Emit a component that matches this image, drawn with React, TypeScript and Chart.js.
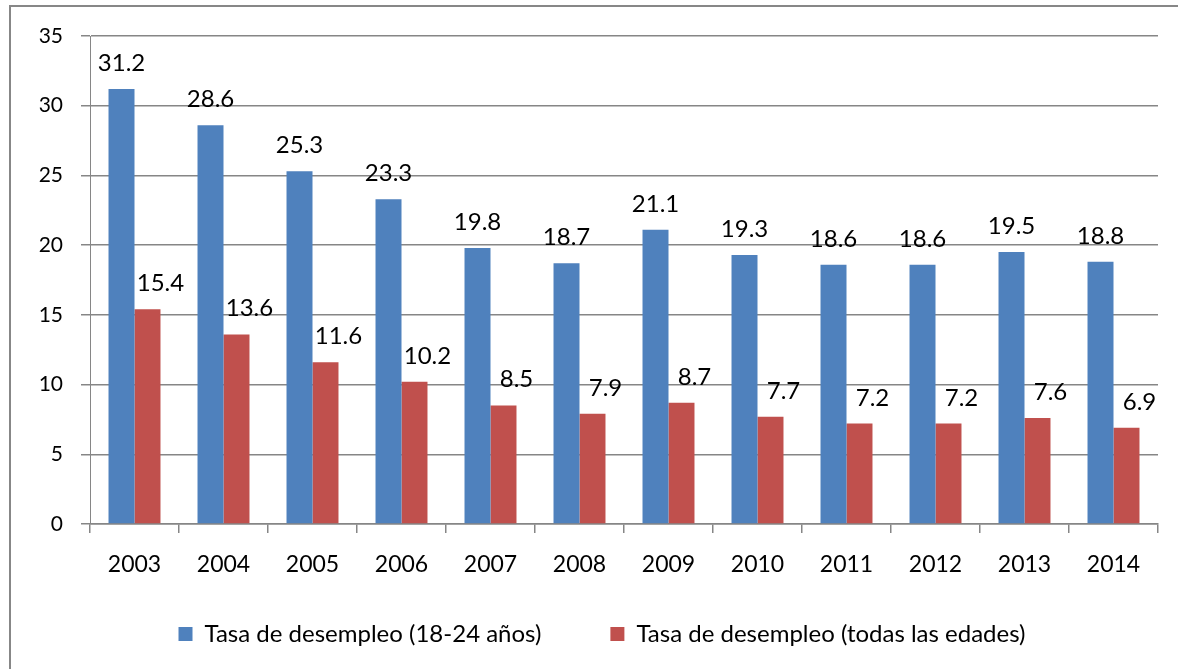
import React, { useEffect, useRef } from "react";
import { Chart, registerables } from "chart.js";

Chart.register(...registerables);

const categories = ["2003", "2004", "2005", "2006", "2007", "2008", "2009", "2010", "2011", "2012", "2013", "2014"];
const youthRate = [31.2, 28.6, 25.3, 23.3, 19.8, 18.7, 21.1, 19.3, 18.6, 18.6, 19.5, 18.8];
const allAgesRate = [15.4, 13.6, 11.6, 10.2, 8.5, 7.9, 8.7, 7.7, 7.2, 7.2, 7.6, 6.9];
const seriesNames = ["Tasa de desempleo (18-24 años)", "Tasa de desempleo (todas las edades)"];
const yTicks = [0, 5, 10, 15, 20, 25, 30, 35];

const FONT = "Lato, 'Noto Sans', sans-serif";
const GRID = "#868686";

const labelPlugin = {
  id: "barLabels",
  afterDatasetsDraw(chart: any) {
    const ctx = chart.ctx;
    ctx.save();
    ctx.font = `24px ${FONT}`;
    ctx.fillStyle = "#000";
    ctx.textAlign = "center";
    ctx.textBaseline = "alphabetic";
    chart.data.datasets.forEach((ds: any, di: number) => {
      const meta = chart.getDatasetMeta(di);
      meta.data.forEach((el: any, i: number) => {
        const v = ds.data[i];
        const dx = di === 1 ? 13 : 0;
        ctx.fillText(v.toFixed(1), el.x + dx, el.y - 18);
      });
    });
    ctx.restore();
  },
};

const legendShift = {
  id: "legendShift",
  afterLayout(chart: any) {
    const lg = chart.legend;
    if (!lg) return;
    const target = 602;
    const dx = target - (lg.left + lg.right) / 2;
    lg.left += dx;
    lg.right += dx;
    // text centre = top + padding + itemHeight/2 ; want 634
    lg.top = 634 - (69 + 12);
    lg.bottom = chart.height;
    lg.height = lg.bottom - lg.top;
  },
};

export default function App() {
  const ref = useRef<HTMLCanvasElement | null>(null);
  useEffect(() => {
    if (!ref.current) return;
    const chart = new Chart(ref.current, {
      type: "bar",
      data: {
        labels: categories,
        datasets: [
          { label: seriesNames[0], data: youthRate, backgroundColor: "#4F81BD", categoryPercentage: 0.584, barPercentage: 1.0 },
          { label: seriesNames[1], data: allAgesRate, backgroundColor: "#C0504D", categoryPercentage: 0.584, barPercentage: 1.0 },
        ],
      },
      options: {
        animation: false,
        responsive: false,
        maintainAspectRatio: false,
        layout: { padding: { left: 20, right: 20, top: 36, bottom: 35 } },
        plugins: {
          tooltip: { enabled: false },
          legend: {
            position: "bottom",
            maxHeight: 55,
            labels: {
              boxWidth: 14,
              boxHeight: 14,
              padding: 69,
              color: "#000",
              font: { family: FONT, size: 24 },
            },
          },
        },
        scales: {
          x: {
            afterFit: (s: any) => { s.height = 55; },
            grid: { drawOnChartArea: false, drawTicks: true, tickLength: 9, color: GRID, lineWidth: 1.5 },
            border: { color: GRID, width: 1.5 },
            ticks: { color: "#000", font: { family: FONT, size: 23 }, padding: 18 },
          },
          y: {
            min: 0,
            max: 35,
            afterFit: (s: any) => { s.width = 70; },
            afterBuildTicks: (s: any) => { s.ticks = yTicks.map((v) => ({ value: v })); },
            grid: { color: GRID, lineWidth: 1.5, tickLength: 9 },
            border: { color: GRID, width: 1 },
            ticks: { color: "#000", font: { family: FONT, size: 21 }, padding: 18 },
          },
        },
      },
      plugins: [labelPlugin, legendShift],
    });
    return () => chart.destroy();
  }, []);

  return (
    <div style={{ position: "fixed", left: 0, top: 0, width: 1178, height: 669, overflow: "hidden", background: "#fff" }}>
      <div
        style={{
          position: "absolute",
          left: 9,
          top: 5,
          right: 0,
          bottom: 0,
          borderLeft: "2px solid #878787",
          borderTop: "2px solid #878787",
        }}
      />
      <canvas ref={ref} width={1178} height={669} style={{ position: "absolute", left: 0, top: 0, width: 1178, height: 669 }} />
    </div>
  );
}
